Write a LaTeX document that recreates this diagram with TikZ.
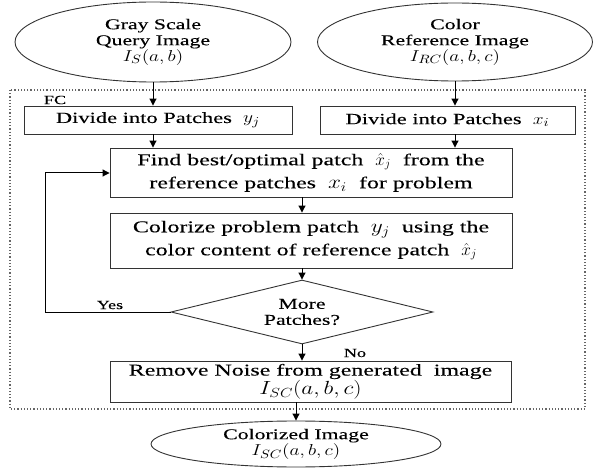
\documentclass[tikz,border=0pt]{standalone}
\usepackage{amsmath}
\usepackage{fontspec}
\setmainfont[FakeStretch=1.45,FakeBold=0.15]{Liberation Serif}
\usetikzlibrary{shapes.geometric,arrows.meta}
\newcommand{\mwide}[1]{\scalebox{1.35}[1.1]{$#1$}}

\begin{document}
\begin{tikzpicture}[x=1pt,y=-1pt,font=\fontsize{15}{16}\selectfont,
oval/.style = {draw=black!80, line width=0.9pt, ellipse, inner sep=0pt, align=center},
procbox/.style = {draw=black!80, line width=0.9pt, rectangle, inner sep=0pt, align=center, font=\fontsize{16.5}{23}\selectfont},
choice/.style = {draw=black!80, line width=0.9pt, diamond, aspect=4, inner sep=0pt, align=center, minimum width=262pt, minimum height=64pt},
flow/.style = {line width=1pt, -{Triangle[length=7pt,width=7pt]}},
tag/.style = {font=\fontsize{12.5}{14}\selectfont}]
\useasboundingbox (0,0) rectangle (595,468);
\draw[dotted, line width=1.2pt, black!60] (10,90) rectangle (585,409);
\node[tag] (fc) at (55,100) {FC};
\node[oval, minimum width=276pt, minimum height=80pt] (query) at (153,42) {Gray Scale\\Query Image\\\mwide{I_S(a,b)}};
\node[oval, minimum width=275pt, minimum height=78pt] (ref) at (455,42) {Color\\Reference Image\\\mwide{I_{RC}(a,b,c)}};
\node[procbox, minimum width=268pt, minimum height=28pt, font=\fontsize{15.5}{17}\selectfont] (divq) at (158,120) {Divide into Patches\ \ \mwide{y_j}};
\node[procbox, minimum width=255pt, minimum height=28pt, font=\fontsize{15.5}{17}\selectfont] (divr) at (447.5,120) {Divide into Patches\ \ \mwide{x_i}};
\node[procbox, minimum width=402pt, minimum height=49pt] (best) at (311,172.5) {Find best/optimal patch\ \ $\hat{x}_j$\ \ from the\\reference patches\ \ \mwide{x_i}\ \ for problem};
\node[procbox, minimum width=402pt, minimum height=55pt] (colz) at (311,240.5) {Colorize problem patch\ \ \mwide{y_j}\ \ using the\\color content of reference patch\ \ $\hat{x}_j$};
\node[choice] (more) at (302,312) {More\\Patches?};
\node[procbox, minimum width=401pt, minimum height=41pt, font=\fontsize{16.5}{17}\selectfont] (noise) at (310.5,381.5) {Remove Noise from generated\ \ image\\\mwide{I_{SC}(a,b,c)}};
\node[oval, minimum width=290pt, minimum height=46pt] (out) at (296,444) {Colorized Image\\\mwide{I_{SC}(a,b,c)}};
\node[tag] (yes) at (110,305) {Yes};
\node[tag] (no) at (355,353) {No};
\coordinate (loop) at (45,173);
\draw[flow] (query) -- (divq.north -| query);
\draw[flow] (ref) -- (divr.north -| ref);
\draw[flow] (divq.south -| query) -- (best.north -| query);
\draw[flow] (divr.south -| ref) -- (best.north -| ref);
\draw[flow] (best.south -| more) -- (colz.north -| more);
\draw[flow] (colz.south -| more) -- (more.north);
\draw[flow] (more.south) -- (noise.north -| more);
\draw[flow] (noise.south -| out) -- (out.north);
\draw[flow] (more.west) -| (loop) -- (best.west |- loop);
\end{tikzpicture}
\end{document}
